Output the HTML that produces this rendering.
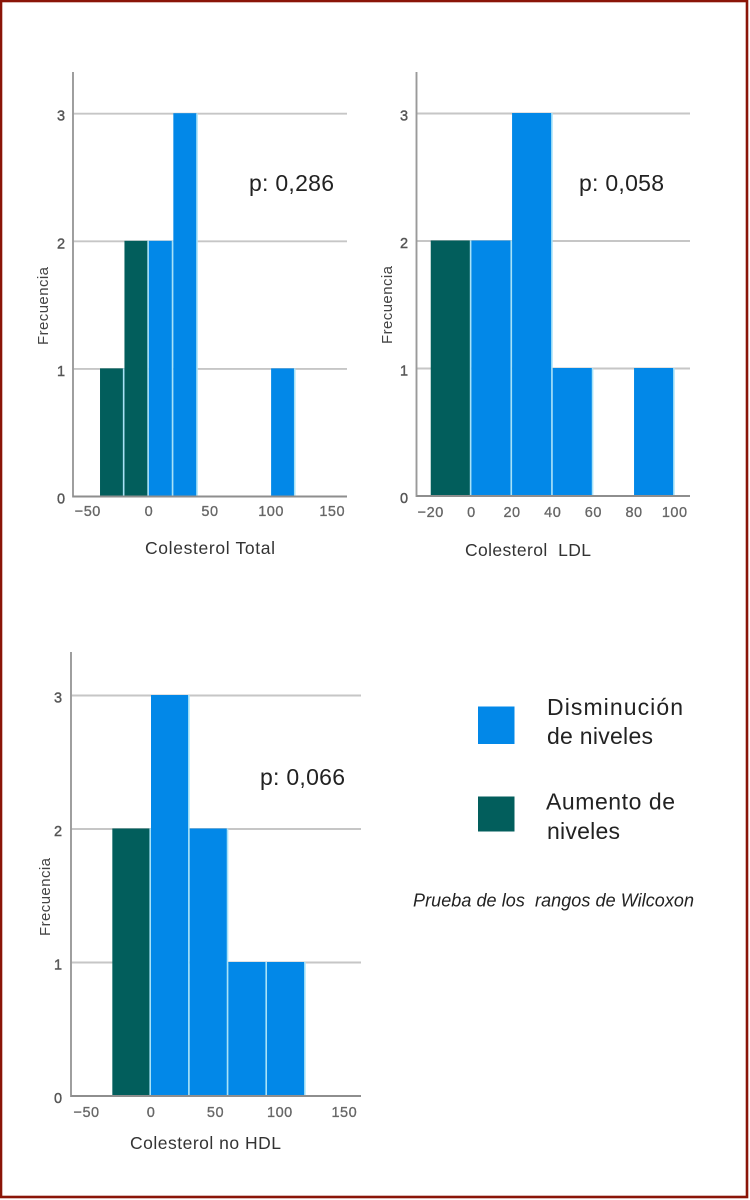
<!DOCTYPE html>
<html lang="es">
<head>
<meta charset="utf-8">
<title>Colesterol histogramas</title>
<style>
html,body{margin:0;padding:0;background:#fff;width:750px;height:1200px;overflow:hidden}
svg{display:block;position:absolute;left:0;top:0}
text{font-family:"Liberation Sans",sans-serif}
#charts,#legend-group,#test-note{filter:blur(0.3px)}
</style>
</head>
<body>
<svg id="chart-root" xmlns="http://www.w3.org/2000/svg" width="750" height="1200" viewBox="0 0 750 1200">
  <rect x="0" y="0" width="750" height="1200" fill="#ffffff"/>
  <rect x="1" y="1" width="746" height="1196" fill="none" stroke="#8a1508" stroke-width="2.6"/>
  <g id="charts"></g>
  <g id="legend-group">
    <rect x="478" y="706.5" width="36.5" height="37.5" fill="#0288e8"/>
    <text x="547" y="715" font-size="23" fill="#222" textLength="136">Disminución</text>
    <text x="547" y="744" font-size="23" fill="#222" textLength="106">de niveles</text>
    <rect x="478" y="796.5" width="36.5" height="35" fill="#025e5c"/>
    <text x="546" y="809.5" font-size="23" fill="#222" textLength="129">Aumento de</text>
    <text x="547" y="839" font-size="23" fill="#222" textLength="73">niveles</text>
  </g>
  <text id="test-note" x="413" y="906.5" font-size="18" font-style="italic" fill="#222" textLength="281">Prueba de los &#160;rangos de Wilcoxon</text>
</svg>
<script>
// Data
const totalBinStarts = [-40, -20, 0, 20, 100];
const totalCounts = [1, 2, 2, 3, 1];
const totalTicks = [-50, 0, 50, 100, 150];
const totalBinWidth = 20;

const ldlBinStarts = [-20, 0, 20, 40, 80];
const ldlCounts = [2, 2, 3, 1, 1];
const ldlTicks = [-20, 0, 20, 40, 60, 80, 100];
const ldlBinWidth = 20;

const noHdlBinStarts = [-30, 0, 30, 60, 90];
const noHdlCounts = [2, 3, 2, 1, 1];
const noHdlTicks = [-50, 0, 50, 100, 150];
const noHdlBinWidth = 30;

const frequencyTicks = [0, 1, 2, 3];

const NS = 'http://www.w3.org/2000/svg';
const root = document.getElementById('charts');

function make(tag, attrs, parent, content) {
  const el = document.createElementNS(NS, tag);
  for (const k in attrs) el.setAttribute(k, attrs[k]);
  if (content !== undefined) el.textContent = content;
  parent.appendChild(el);
  return el;
}

function drawChart(cfg) {
  const g = make('g', {}, root);
  
  

  // axis functions
  const xScale = v => cfg.x0 + v * cfg.pxPerUnit;
  const yScale = v => cfg.base - v * cfg.pxPerCount;

  // gridlines
  frequencyTicks.filter(t => t > 0).forEach(t => {
    const grid = make('line', {x1: cfg.axisX, x2: cfg.right, y1: yScale(t), y2: yScale(t), stroke: '#c6c6c6', 'stroke-width': 1.9}, g);
    
    
  });

  // bars: the light separator is stroked on the right edge only
  cfg.starts.forEach((s, i) => {
    const left = xScale(s);
    const right = xScale(s + cfg.binWidth);
    const top = yScale(cfg.counts[i]);
    const w = right - left - 0.8;
    const h = cfg.base - top;
    const bar = make('rect', {
      x: left, y: top - 0.5, width: w, height: h + 0.5,
      fill: s < 0 ? '#025e5c' : '#0288e8',
      stroke: '#a8e2f7', 'stroke-width': 1.6,
      'stroke-dasharray': '0 ' + w + ' ' + (h + 0.5) + ' ' + (w + h + 0.5)
    }, g);
    
    
  });

  // axes
  const yAxis = make('line', {x1: cfg.axisX, x2: cfg.axisX, y1: cfg.top, y2: cfg.base + 1, stroke: '#9a9a9a', 'stroke-width': 1.9}, g);
  
  
  const xAxis = make('line', {x1: cfg.axisX, x2: cfg.right, y1: cfg.base, y2: cfg.base, stroke: '#8e8e8e', 'stroke-width': 1.9}, g);
  
  

  // tick labels
  cfg.ticks.forEach(t => {
    const label = make('text', {
      x: xScale(t), y: cfg.xTickY, 'font-size': 14.5, 'letter-spacing': 0.5,
      'text-anchor': 'middle', fill: '#666', stroke: '#666', 'stroke-width': 0.3
    }, g, String(t).replace('-', '\u2212'));
    
    
  });
  frequencyTicks.forEach(t => {
    const label = make('text', {
      x: cfg.yTickX, y: yScale(t) + 7, 'font-size': 14.5,
      'text-anchor': 'middle', fill: '#555', stroke: '#555', 'stroke-width': 0.4
    }, g, String(t));
    
    
  });

  // titles
  const yTitle = make('text', {
    transform: 'translate(' + cfg.yTitleX + ',' + cfg.yTitleY + ') rotate(-90)',
    'font-size': 15, 'text-anchor': 'middle', fill: '#444', textLength: 78
  }, g, 'Frecuencia');
  
  

  const xTitle = make('text', {
    x: cfg.xTitleX, y: cfg.xTitleY, 'font-size': 17.5, fill: '#333',
    textLength: cfg.xTitleLen
  }, g, cfg.title);
  
  

  const pLabel = make('text', {
    x: cfg.pX, y: cfg.pY, 'font-size': 23, fill: '#222', textLength: 85
  }, g, cfg.pText);
  
  
}

drawChart({
  key: 'total', starts: totalBinStarts, counts: totalCounts, ticks: totalTicks, binWidth: totalBinWidth,
  x0: 148.9, pxPerUnit: 1.222, base: 496.5, pxPerCount: 127.6, axisX: 73, right: 347, top: 72,
  xTickY: 516, yTickX: 61, yTitleX: 48, yTitleY: 306,
  title: 'Colesterol Total', xTitleX: 145, xTitleY: 554, xTitleLen: 130,
  pText: 'p: 0,286', pX: 249, pY: 191
});
drawChart({
  key: 'ldl', starts: ldlBinStarts, counts: ldlCounts, ticks: ldlTicks, binWidth: ldlBinWidth,
  x0: 471.4, pxPerUnit: 2.033, base: 496, pxPerCount: 127.5, axisX: 416.5, right: 690, top: 72,
  xTickY: 517, yTickX: 404, yTitleX: 392, yTitleY: 305,
  title: 'Colesterol \u00A0LDL', xTitleX: 465, xTitleY: 556, xTitleLen: 126,
  pText: 'p: 0,058', pX: 579, pY: 191
});
drawChart({
  key: 'no-hdl', starts: noHdlBinStarts, counts: noHdlCounts, ticks: noHdlTicks, binWidth: noHdlBinWidth,
  x0: 151, pxPerUnit: 1.289, base: 1096, pxPerCount: 133.5, axisX: 71, right: 361, top: 652,
  xTickY: 1117, yTickX: 58, yTitleX: 50, yTitleY: 897,
  title: 'Colesterol no HDL', xTitleX: 130, xTitleY: 1149, xTitleLen: 151,
  pText: 'p: 0,066', pX: 260, pY: 785
});
</script>
</body>
</html>
